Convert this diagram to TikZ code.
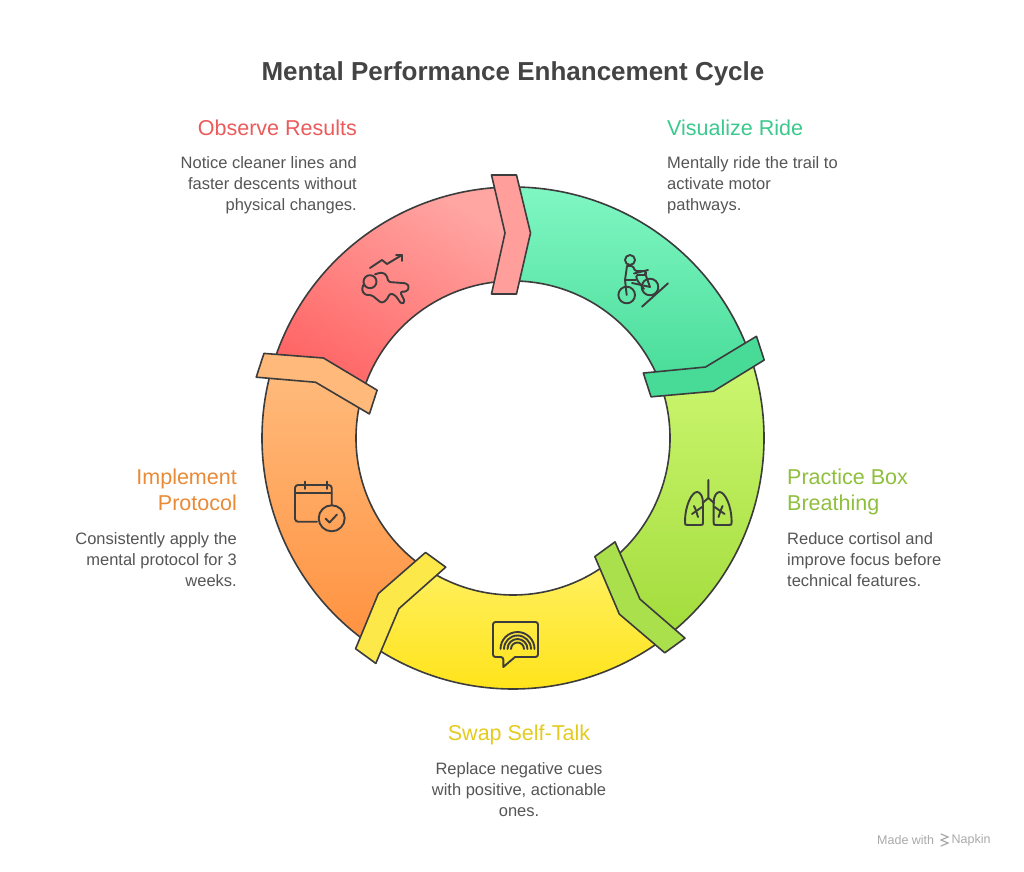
\documentclass[tikz,border=0pt]{standalone}
\usepackage{fontspec}
\setmainfont{Liberation Sans}
\usetikzlibrary{positioning}
\definecolor{lineGray}{HTML}{3C3C3C}
\definecolor{bodyGray}{HTML}{555555}
\definecolor{titleGray}{HTML}{444444}
\definecolor{obsTop}{HTML}{FFA6A3}
\definecolor{obsBot}{HTML}{FF6666}
\definecolor{obsTab}{HTML}{FF9E9B}
\definecolor{obsText}{HTML}{EB5B5B}
\definecolor{visTop}{HTML}{80F7C3}
\definecolor{visBot}{HTML}{46DB97}
\definecolor{visTab}{HTML}{48DB97}
\definecolor{visText}{HTML}{3CC98D}
\definecolor{pracTop}{HTML}{CCF670}
\definecolor{pracBot}{HTML}{A2DC3B}
\definecolor{pracTab}{HTML}{A9E04B}
\definecolor{pracText}{HTML}{8FC03D}
\definecolor{swapTop}{HTML}{FFF060}
\definecolor{swapBot}{HTML}{FFE212}
\definecolor{swapTab}{HTML}{FDE84A}
\definecolor{swapText}{HTML}{E4CB20}
\definecolor{impTop}{HTML}{FFBC7E}
\definecolor{impBot}{HTML}{FF9240}
\definecolor{impTab}{HTML}{FFB97B}
\definecolor{impText}{HTML}{E98A36}
\definecolor{napGray}{HTML}{AAAAAA}
\begin{document}
\begin{tikzpicture}[x=1pt,y=1pt,
    seg part/.style={draw=lineGray,line width=1.6pt,line join=round},
    tab part/.style={draw=lineGray,line width=1.6pt,line join=round},
    icon line/.style={draw=lineGray,line width=1.9pt,line cap=round,line join=round},
    head node/.style={inner sep=0pt,font=\fontsize{21.5}{26}\selectfont},
    body node/.style={inner sep=0pt,text=bodyGray,font=\fontsize{16.5}{21}\selectfont}]
    \useasboundingbox (0,0) rectangle (1024,871);
    \fill[white] (0,0) rectangle (1024,871);
    \coordinate (c) at (513,433);

    % ring segments
    \begin{scope}[shift={(c)}]
        \path[seg part,top color=obsTop,bottom color=obsBot,shading angle=-30]
            (90:251) arc[start angle=90,end angle=162,radius=251] -- (162:157) arc[start angle=162,end angle=90,radius=157] -- cycle;
        \path[seg part,top color=visTop,bottom color=visBot]
            (18:251) arc[start angle=18,end angle=90,radius=251] -- (90:157) arc[start angle=90,end angle=18,radius=157] -- cycle;
        \path[seg part,top color=pracTop,bottom color=pracBot]
            (-54:251) arc[start angle=-54,end angle=18,radius=251] -- (18:157) arc[start angle=18,end angle=-54,radius=157] -- cycle;
        \path[seg part,top color=swapTop,bottom color=swapBot]
            (-126:251) arc[start angle=-126,end angle=-54,radius=251] -- (-54:157) arc[start angle=-54,end angle=-126,radius=157] -- cycle;
        \path[seg part,top color=impTop,bottom color=impBot]
            (162:251) arc[start angle=162,end angle=234,radius=251] -- (234:157) arc[start angle=234,end angle=162,radius=157] -- cycle;

        % arrow tabs
        \draw[tab part,fill=obsTab]
            (-21.5,263) -- (-8,205) -- (-21.5,144) -- (3.5,144) -- (17.5,205) -- (3.5,263) -- cycle;
        \draw[tab part,fill=visTab,rotate=-72]
            (-21.5,263) -- (-8,205) -- (-21.5,144) -- (3.5,144) -- (17.5,205) -- (3.5,263) -- cycle;
        \draw[tab part,fill=pracTab,rotate=-144]
            (-21.5,263) -- (-8,205) -- (-21.5,144) -- (3.5,144) -- (17.5,205) -- (3.5,263) -- cycle;
        \draw[tab part,fill=swapTab,rotate=-216]
            (-21.5,263) -- (-8,205) -- (-21.5,144) -- (3.5,144) -- (17.5,205) -- (3.5,263) -- cycle;
        \draw[tab part,fill=impTab,rotate=72]
            (-21.5,263) -- (-8,205) -- (-21.5,144) -- (3.5,144) -- (17.5,205) -- (3.5,263) -- cycle;
    \end{scope}

    % icons (pixel frame, y down)
    \begin{scope}[shift={(0,871)},yscale=-1]
        % observe
        \draw[icon line] (370,268) -- (382,260) -- (387,264) -- (402,255);
        \draw[icon line] (396,255) -- (402,255) -- (402,261);
        \draw[icon line] (370,281.7) circle[radius=6.5];
        \draw[icon line,rounded corners=2.5pt] (375,274.3) -- (381.7,272.3) -- (386.7,275) -- (388.3,282) -- (406.7,283.3) -- (409.3,287) -- (406.7,291.7) -- (400,291.7) -- (405,301.7) -- (401.7,304.3) -- (395,295) -- (390,293.3) -- (386.7,300) -- (381.7,303.3) -- (371.7,295) -- (365,295) -- (361.7,290) -- (363.3,285);
        % visualize
        \draw[icon line] (630,260) circle[radius=5];
        \draw[icon line,rounded corners=1.5pt] (627,266) -- (633,266) -- (635,271) -- (646,271) -- (646,275) -- (636,275) -- (637,280) -- (644,289);
        \draw[icon line] (627,266) -- (625,280) -- (636,280);
        \draw[icon line] (634,273.5) -- (648,270);
        \draw[icon line] (625,280) -- (626.7,295);
        \draw[icon line] (632,283) -- (650,287) -- (645,273);
        \draw[icon line] (626.7,295) circle[radius=8.3];
        \draw[icon line] (650,287) circle[radius=8.3];
        \draw[icon line] (642,306.7) -- (668,283.3);
        % practice
        \draw[icon line] (708.3,480) -- (708.3,498) -- (702.5,503);
        \draw[icon line] (708.3,498) -- (714.1,503);
        \draw[icon line] (703,503) -- (703,522) .. controls (703,525) .. (700,525) -- (688,525) .. controls (685,525) .. (685,522) .. controls (685,505) and (692,492) .. (697,492) .. controls (700,492) and (703,496) .. (703,503);
        \draw[icon line] (713.6,503) -- (713.6,522) .. controls (713.6,525) .. (716.6,525) -- (728.6,525) .. controls (731.6,525) .. (731.6,522) .. controls (731.6,505) and (724.6,492) .. (719.6,492) .. controls (716.6,492) and (713.6,496) .. (713.6,503);
        \draw[icon line] (702,507) -- (692,514);
        \draw[icon line] (696,510.5) -- (694,506);
        \draw[icon line] (696,510.5) -- (698,517);
        \draw[icon line] (714.6,507) -- (724.6,514);
        \draw[icon line] (720.6,510.5) -- (722.6,506);
        \draw[icon line] (720.6,510.5) -- (718.6,517);
        % swap
        \draw[icon line,rounded corners=2.5pt] (515,657) -- (538,657) -- (538,622) -- (493,622) -- (493,657) -- (503.3,657) [sharp corners] -- (503.3,667) -- cycle;
        \draw[icon line] (500.5,649) arc[start angle=180,end angle=360,radius=17];
        \draw[icon line] (504,649) arc[start angle=180,end angle=360,radius=13.5];
        \draw[icon line] (507.5,649) arc[start angle=180,end angle=360,radius=10];
        \draw[icon line] (511,649) arc[start angle=180,end angle=360,radius=6.5];
        % implement
        \draw[icon line,rounded corners=3pt] (331.7,505) -- (331.7,485) -- (295,485) -- (295,521.7) -- (317,521.7);
        \draw[icon line] (295,493.3) -- (331.7,493.3);
        \draw[icon line] (305,481.5) -- (305,489);
        \draw[icon line] (326.7,481.5) -- (326.7,489);
        \draw[icon line] (331.7,518.3) circle[radius=13];
        \draw[icon line] (325.5,518.5) -- (329.5,522.5) -- (337,514.5);
        % napkin mark
        \draw[napGray,line width=1.2pt,line cap=round] (941,834) -- (948,837) -- (941,840) -- (948,843) -- (941,846);
    \end{scope}

    % texts
    \node[inner sep=0pt,anchor=north,text=titleGray,font=\bfseries\fontsize{26}{30}\selectfont] at (513,810) (title) {Mental Performance Enhancement Cycle};

    \node[head node,anchor=north east,text=obsText,align=right] at (357,751.5) (obsHead) {Observe Results};
    \node[body node,anchor=north east,align=right] at (357,715) (obsBody) {Notice cleaner lines and\\faster descents without\\physical changes.};

    \node[head node,anchor=north west,text=visText,align=left] at (667,751.5) (visHead) {Visualize Ride};
    \node[body node,anchor=north west,align=left] at (667,715) (visBody) {Mentally ride the trail to\\activate motor\\pathways.};

    \node[head node,anchor=north west,text=pracText,align=left] at (787,402.7) (pracHead) {Practice Box\\Breathing};
    \node[body node,anchor=north west,align=left] at (787,339) (pracBody) {Reduce cortisol and\\improve focus before\\technical features.};

    \node[head node,anchor=north,text=swapText,align=center] at (519,146.7) (swapHead) {Swap Self-Talk};
    \node[body node,anchor=north,align=center] at (519,109) (swapBody) {Replace negative cues\\with positive, actionable\\ones.};

    \node[head node,anchor=north east,text=impText,align=right] at (237,402.7) (impHead) {Implement\\Protocol};
    \node[body node,anchor=north east,align=right] at (237,339) (impBody) {Consistently apply the\\mental protocol for 3\\weeks.};

    \node[inner sep=0pt,anchor=west,text=napGray,font=\fontsize{12.5}{14}\selectfont] at (877,31) (made) {Made with};
    \node[inner sep=0pt,right=17pt of made,text=napGray,font=\fontsize{12.5}{14}\selectfont] (napkin) {Napkin};
\end{tikzpicture}
\end{document}
